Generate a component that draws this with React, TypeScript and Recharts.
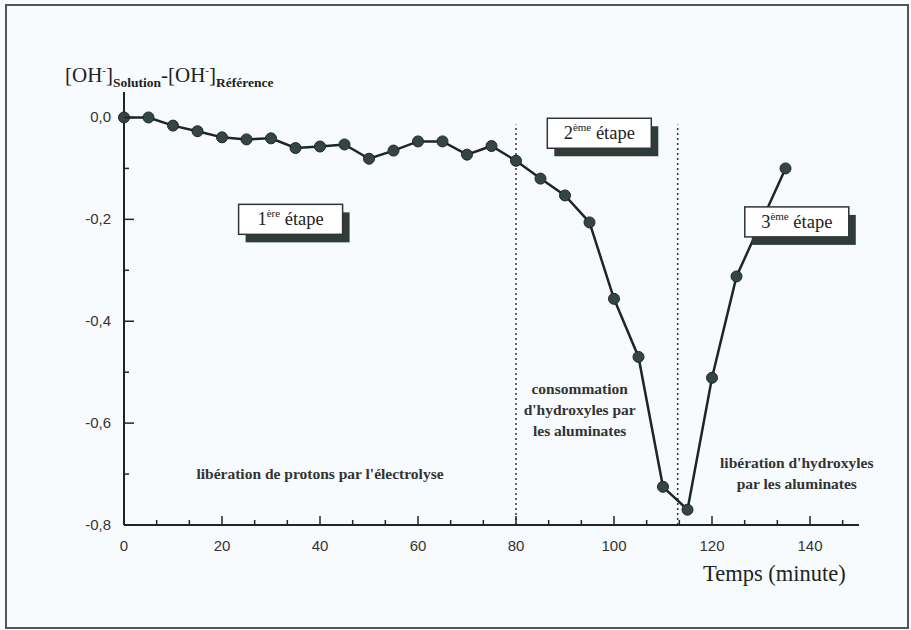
import React from "react";
import { LineChart, Line, XAxis, YAxis, ReferenceLine, ReferenceDot } from "recharts";

// temps (minute) et [OH-]solution - [OH-]référence
const minutes = [0, 5, 10, 15, 20, 25, 30, 35, 40, 45, 50, 55, 60, 65, 70, 75, 80, 85, 90, 95, 100, 105, 110, 115, 120, 125, 135];
const ohDiff = [0, 0, -0.016, -0.027, -0.039, -0.043, -0.041, -0.06, -0.057, -0.053, -0.081, -0.065, -0.047, -0.047, -0.073, -0.056, -0.085, -0.12, -0.153, -0.206, -0.356, -0.47, -0.725, -0.77, -0.511, -0.312, -0.1];

const xMajor = [0, 20, 40, 60, 80, 100, 120, 140];
const yTicks = [-0.8, -0.7, -0.6, -0.5, -0.4, -0.3, -0.2, -0.1, 0];
const yMajor = [-0.8, -0.6, -0.4, -0.2, 0];
const stageLimits = [80, 113];

const data = minutes.map((t, i) => ({ t, v: ohDiff[i] }));
// two minor ticks between each labelled tick
const xTicks = Array.from({ length: 23 }, (_, i) => (i * 20) / 3);

const SERIF = "'Liberation Serif', 'Times New Roman', serif";
const SANS = "'Liberation Sans', Arial, sans-serif";
const INK = "#1e2624";

const isMajor = (v: number, list: number[]) => list.some((m) => Math.abs(m - v) < 1e-6);

function XTick({ x, y, payload }: any) {
  const major = isMajor(payload.value, xMajor);
  return (
    <g>
      <line x1={x} x2={x} y1={y} y2={y - (major ? 9 : 5)} stroke={INK} strokeWidth={1.5} />
      {major && (
        <text x={x} y={y + 26} textAnchor="middle" fontFamily={SANS} fontSize={15} fill="#333">
          {Math.round(payload.value)}
        </text>
      )}
    </g>
  );
}

function YTick({ x, y, payload }: any) {
  const major = isMajor(payload.value, yMajor);
  return (
    <g>
      <line x1={x} x2={x + (major ? 10 : 5)} y1={y} y2={y} stroke={INK} strokeWidth={1.5} />
      {major && (
        <text x={x - 13} y={y + 5} textAnchor="end" fontFamily={SANS} fontSize={15} fill="#333">
          {(payload.value < 0 ? "-" : "") + Math.abs(payload.value).toFixed(1).replace(".", ",")}
        </text>
      )}
    </g>
  );
}

function StageBox({ cx, cy, num, sup }: any) {
  const w = 104, h = 30;
  return (
    <g>
      <rect x={cx - w / 2 + 7} y={cy - h / 2 + 8} width={w} height={h} fill="#2f3d3a" />
      <rect x={cx - w / 2} y={cy - h / 2} width={w} height={h} fill="#fff" stroke="#333" strokeWidth={1.5} />
      <text x={cx} y={cy + 6} textAnchor="middle" fontFamily={SERIF} fontSize={18.5} fill="#222">
        {num}
        <tspan fontSize={11} dy={-8}>{sup}</tspan>
        <tspan dy={8}> étape</tspan>
      </text>
    </g>
  );
}

function Note({ cx, cy, lines }: any) {
  const lh = 21;
  const top = cy - ((lines.length - 1) * lh) / 2;
  return (
    <text textAnchor="middle" fontFamily={SERIF} fontSize={15.5} fontWeight="bold" fill="#333">
      {lines.map((l: string, i: number) => (
        <tspan key={i} x={cx} y={top + i * lh + 5}>{l}</tspan>
      ))}
    </text>
  );
}

export default function App() {
  return (
    <div style={{ position: "absolute", left: 0, top: 0, width: 911, height: 630, background: "#f8fbfd", overflow: "hidden" }}>
      <div style={{ position: "absolute", left: 5, top: 4, width: 900, height: 621, border: "2px solid #555" }} />
      <div style={{ position: "absolute", left: 65, top: 65, fontFamily: SERIF, fontSize: 21, color: "#222", whiteSpace: "nowrap", lineHeight: 1 }}>
        [OH<sup style={{ fontSize: 11 }}>-</sup>]<sub style={{ fontSize: 13.5, fontWeight: "bold" }}>Solution</sub>-[OH
        <sup style={{ fontSize: 11 }}>-</sup>]<sub style={{ fontSize: 13.5, fontWeight: "bold" }}>Référence</sub>
      </div>
      <div style={{ position: "absolute", left: 703, top: 563, fontFamily: SERIF, fontSize: 22.5, color: "#222", lineHeight: 1, whiteSpace: "nowrap" }}>
        Temps (minute)
      </div>
      <div style={{ position: "absolute", left: 0, top: 0 }}>
        <LineChart width={911} height={630} data={data} margin={{ top: 92, right: 52, left: 64, bottom: 75 }}>
          <XAxis
            dataKey="t"
            type="number"
            domain={[0, 150]}
            ticks={xTicks}
            interval={0}
            tickSize={0}
            tickMargin={0}
            tickLine={false}
            tick={<XTick />}
            height={30}
            axisLine={{ stroke: INK, strokeWidth: 2 }}
          />
          <YAxis
            type="number"
            domain={[-0.8, 0.05]}
            ticks={yTicks}
            interval={0}
            tickSize={0}
            tickMargin={0}
            tickLine={false}
            tick={<YTick />}
            width={60}
            axisLine={{ stroke: INK, strokeWidth: 2 }}
          />
          {stageLimits.map((s) => (
            <ReferenceLine
              key={s}
              segment={[{ x: s, y: -0.8 }, { x: s, y: -0.014 }]}
              stroke="#333"
              strokeWidth={1.5}
              strokeDasharray="2 3"
            />
          ))}
          <ReferenceDot x={34} y={-0.2} shape={(p: any) => <StageBox {...p} num="1" sup="ère" />} />
          <ReferenceDot x={97} y={-0.031} shape={(p: any) => <StageBox {...p} num="2" sup="ème" />} />
          <ReferenceDot x={137.3} y={-0.205} shape={(p: any) => <StageBox {...p} num="3" sup="ème" />} />
          <ReferenceDot x={40} y={-0.7} shape={(p: any) => <Note {...p} lines={["libération de protons par l'électrolyse"]} />} />
          <ReferenceDot x={93} y={-0.574} shape={(p: any) => <Note {...p} lines={["consommation", "d'hydroxyles par", "les aluminates"]} />} />
          <ReferenceDot x={137.3} y={-0.698} shape={(p: any) => <Note {...p} lines={["libération d'hydroxyles", "par les aluminates"]} />} />
          <Line
            type="linear"
            dataKey="v"
            stroke={INK}
            strokeWidth={2.5}
            dot={{ r: 5.5, fill: "#34463f", stroke: INK, strokeWidth: 1 }}
            isAnimationActive={false}
          />
        </LineChart>
      </div>
    </div>
  );
}
